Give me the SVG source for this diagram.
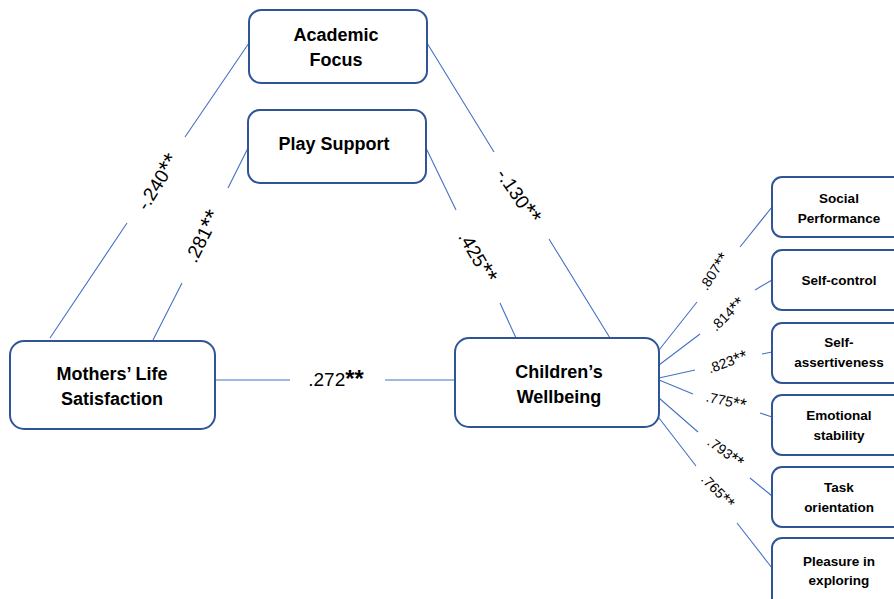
<svg xmlns="http://www.w3.org/2000/svg" width="894" height="599" viewBox="0 0 894 599">
<style>
.box{fill:#fff;stroke:#2F5597;stroke-width:2}
.ln{stroke:#4472C4;stroke-width:1.1;fill:none}
.nt{font-family:"Liberation Sans",Arial,sans-serif;font-weight:bold;font-size:18px;fill:#000;text-anchor:middle}
.st{font-family:"Liberation Sans",Arial,sans-serif;font-weight:bold;font-size:13.5px;fill:#000;text-anchor:middle}
.lb{font-family:"Liberation Sans",Arial,sans-serif;font-size:19px;fill:#000;text-anchor:middle;dominant-baseline:middle}
.sl{font-family:"Liberation Sans",Arial,sans-serif;font-size:14px;fill:#000;text-anchor:middle;dominant-baseline:middle}
.ast{font-size:1.25em}
</style>
<rect width="894" height="599" fill="#fff"/>
<g id="connectors">
<path class="ln" d="M249,43 L185,137 M127,223 L50,338"/>
<path class="ln" d="M248,148 L228,188 M182,283 L153,340"/>
<path class="ln" d="M215,380 L290,380 M385,380 L455,380"/>
<path class="ln" d="M427,43 L494,152 M549,239 L610,338"/>
<path class="ln" d="M426,148 L456,210 M500,303 L516,338"/>
<path class="ln" d="M659,350 L697,302 M740,247 L772,207"/>
<path class="ln" d="M659,365 L700,334 M755,290 L772,280"/>
<path class="ln" d="M659,378 L695,370 M762,354 L772,352"/>
<path class="ln" d="M659,380 L693,394 M760,413 L772,417"/>
<path class="ln" d="M659,398 L698,432 M750,478 L772,496"/>
<path class="ln" d="M659,418 L696,466 M737,523 L772,568"/>
<text class="lb" transform="translate(159,183) rotate(-58)">-.240<tspan class="ast">**</tspan></text>
<text class="lb" transform="translate(204,237) rotate(-63)">.281<tspan class="ast">**</tspan></text>
<text class="lb" x="336" y="381">.272<tspan class="ast" font-weight="bold">**</tspan></text>
<text class="lb" transform="translate(517,197) rotate(56)">-.130<tspan class="ast">**</tspan></text>
<text class="lb" transform="translate(476,258) rotate(60)">.425<tspan class="ast">**</tspan></text>
<text class="sl" transform="translate(715,272) rotate(-57)">.807<tspan class="ast">**</tspan></text>
<text class="sl" transform="translate(728,315) rotate(-45)">.814<tspan class="ast">**</tspan></text>
<text class="sl" transform="translate(728,363) rotate(-20)">.823<tspan class="ast">**</tspan></text>
<text class="sl" transform="translate(726,402) rotate(12)">.775<tspan class="ast">**</tspan></text>
<text class="sl" transform="translate(725,453) rotate(36)">.793<tspan class="ast">**</tspan></text>
<text class="sl" transform="translate(717,492) rotate(46)">.765<tspan class="ast">**</tspan></text>
</g>
<g id="academic-focus">
<rect class="box" x="249" y="10" width="178" height="73" rx="12"/>
<text class="nt" x="336" y="41">Academic</text>
<text class="nt" x="336" y="66">Focus</text>
</g>
<g id="play-support">
<rect class="box" x="248" y="110" width="178" height="73" rx="12"/>
<text class="nt" x="334" y="150">Play Support</text>
</g>
<g id="mothers-life-satisfaction">
<rect class="box" x="10" y="341" width="205" height="88" rx="14"/>
<text class="nt" x="112" y="380">Mothers’ Life</text>
<text class="nt" x="112" y="405">Satisfaction</text>
</g>
<g id="childrens-wellbeing">
<rect class="box" x="455" y="338" width="204" height="89" rx="14"/>
<text class="nt" x="559" y="378">Children’s</text>
<text class="nt" x="559" y="403">Wellbeing</text>
</g>
<g id="social-performance">
<rect class="box" x="772" y="177" width="140" height="60" rx="10"/>
<text class="st" x="839" y="203">Social</text>
<text class="st" x="839" y="223">Performance</text>
</g>
<g id="self-control">
<rect class="box" x="772" y="250" width="140" height="60" rx="10"/>
<text class="st" x="839" y="285">Self-control</text>
</g>
<g id="self-assertiveness">
<rect class="box" x="772" y="323" width="140" height="60" rx="10"/>
<text class="st" x="839" y="347">Self-</text>
<text class="st" x="839" y="367">assertiveness</text>
</g>
<g id="emotional-stability">
<rect class="box" x="772" y="395" width="140" height="60" rx="10"/>
<text class="st" x="839" y="420">Emotional</text>
<text class="st" x="839" y="440">stability</text>
</g>
<g id="task-orientation">
<rect class="box" x="772" y="467" width="140" height="60" rx="10"/>
<text class="st" x="839" y="492">Task</text>
<text class="st" x="839" y="512">orientation</text>
</g>
<g id="pleasure-in-exploring">
<rect class="box" x="772" y="538" width="140" height="70" rx="10"/>
<text class="st" x="839" y="566">Pleasure in</text>
<text class="st" x="839" y="585">exploring</text>
</g>
</svg>
